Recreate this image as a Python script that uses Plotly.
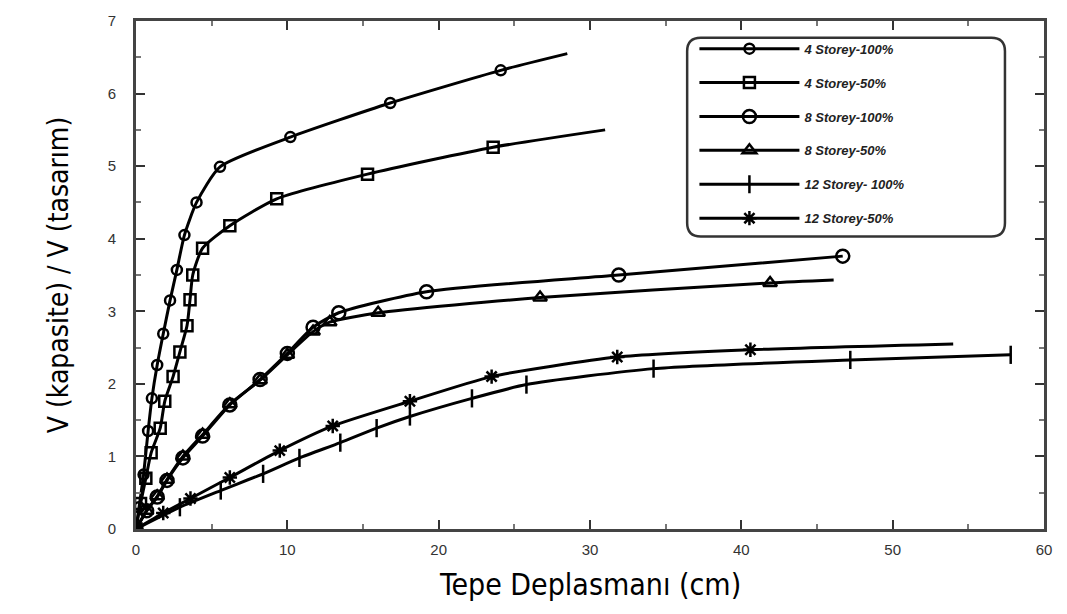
import plotly.graph_objects as go

# ---- data ----
names = ["4 Storey-100%", "4 Storey-50%", "8 Storey-100%", "8 Storey-50%",
         "12 Storey- 100%", "12 Storey-50%"]

x_4_100 = [0, 0.2, 0.5, 0.8, 1.05, 1.4, 1.8, 2.25, 2.7, 3.2, 4.0, 5.55, 10.2, 16.8, 24.1, 28.5]
y_4_100 = [0, 0.3, 0.75, 1.35, 1.8, 2.26, 2.69, 3.15, 3.57, 4.05, 4.5, 4.99, 5.4, 5.87, 6.32, 6.55]

x_4_50 = [0, 0.3, 0.65, 1.0, 1.6, 1.9, 2.45, 2.9, 3.37, 3.57, 3.75, 4.4, 6.2, 9.3, 15.3, 23.6, 31.0]
y_4_50 = [0, 0.35, 0.7, 1.05, 1.39, 1.76, 2.1, 2.44, 2.8, 3.16, 3.5, 3.87, 4.18, 4.55, 4.89, 5.26, 5.5]

x_8_100 = [0, 0.7, 1.4, 2.05, 3.1, 4.4, 6.2, 8.2, 10.0, 11.7, 13.4, 19.2, 31.9, 46.7]
y_8_100 = [0, 0.25, 0.44, 0.67, 0.98, 1.28, 1.71, 2.06, 2.42, 2.78, 2.98, 3.27, 3.50, 3.76]

x_8_50 = [0, 0.7, 1.4, 2.05, 3.1, 4.4, 6.2, 8.2, 10.0, 11.7, 12.8, 16.0, 26.7, 41.9, 46.1]
y_8_50 = [0, 0.25, 0.45, 0.68, 1.0, 1.3, 1.72, 2.05, 2.4, 2.72, 2.85, 2.98, 3.19, 3.39, 3.43]

x_12_100 = [0, 2.9, 5.6, 8.4, 10.8, 13.5, 15.9, 18.1, 22.2, 25.8, 34.2, 47.2, 57.8]
y_12_100 = [0, 0.30, 0.53, 0.76, 0.98, 1.19, 1.39, 1.55, 1.80, 1.99, 2.21, 2.33, 2.40]

x_12_50 = [0, 1.8, 3.6, 6.2, 9.5, 13.0, 18.1, 23.5, 31.8, 40.6, 54.0]
y_12_50 = [0, 0.22, 0.42, 0.71, 1.08, 1.42, 1.76, 2.10, 2.37, 2.47, 2.55]

x_ticks = [0, 10, 20, 30, 40, 50, 60]
y_ticks = [0, 1, 2, 3, 4, 5, 6, 7]

# (x, y, symbol, marker size, marker on last point?)
series = [
    (x_4_100, y_4_100, "circle-open", 10, False),
    (x_4_50, y_4_50, "square-open", 11, False),
    (x_8_100, y_8_100, "circle-open", 13, True),
    (x_8_50, y_8_50, "triangle-up-open", 12, False),
    (x_12_100, y_12_100, "line-ns-open", 13, True),
    (x_12_50, y_12_50, "asterisk-open", 12, False),
]

fig = go.Figure()
for i, (xs, ys, sym, sz, last) in enumerate(series):
    colors = ["black"] * len(xs)
    if not last:
        colors[-1] = "rgba(0,0,0,0)"
    fig.add_trace(go.Scatter(
        x=xs, y=ys, name=names[i], legendgroup=str(i),
        mode="lines+markers",
        line=dict(color="black", width=3, shape="spline", smoothing=0.6),
        marker=dict(symbol=sym, size=sz, color=colors,
                    line=dict(width=2.5)),
    ))

axis_common = dict(
    showline=True, linecolor="#444", linewidth=3, mirror="allticks",
    ticks="inside", ticklen=9, tickwidth=2, tickcolor="#333",
    showgrid=False, zeroline=False,
    tickfont=dict(family="Liberation Sans, Arial", size=15, color="#333"),
)

fig.update_xaxes(range=[0, 60], tickvals=x_ticks, ticklabelstandoff=5,
                 minor=dict(dtick=5, ticks="inside", ticklen=5, tickcolor="#777", tickwidth=2),
                 **axis_common)
fig.update_yaxes(range=[0, 7], tickvals=y_ticks, ticklabelstandoff=14,
                 minor=dict(dtick=0.5, ticks="inside", ticklen=5, tickcolor="#777", tickwidth=2),
                 **axis_common)

# legend frame (rounded rectangle) in paper coordinates
x0, x1, y0, y1, r = 0.607, 0.957, 0.576, 0.967, 0.015
ry = r * 908 / 514
fig.add_shape(type="path", xref="paper", yref="paper",
              path=(f"M {x0+r},{y1} L {x1-r},{y1} Q {x1},{y1} {x1},{y1-ry} "
                    f"L {x1},{y0+ry} Q {x1},{y0} {x1-r},{y0} L {x0+r},{y0} "
                    f"Q {x0},{y0} {x0},{y0+ry} L {x0},{y1-ry} Q {x0},{y1} {x0+r},{y1} Z"),
              line=dict(color="#333", width=2.5), fillcolor="white", layer="below")

fig.add_annotation(text="V (kapasite) / V (tasarım)", xref="paper", yref="paper",
                   x=-0.106, y=0.5, textangle=-90, showarrow=False,
                   font=dict(family="Liberation Sans Narrow, DejaVu Sans Condensed, Liberation Sans",
                             size=28, color="black"))
fig.add_annotation(text="Tepe Deplasmanı (cm)", xref="paper", yref="paper",
                   x=0.5, y=-0.109, yanchor="middle", showarrow=False,
                   font=dict(family="Liberation Sans Narrow, DejaVu Sans Condensed, Liberation Sans",
                             size=30, color="black"))

fig.update_layout(
    width=1067, height=614,
    margin=dict(l=136, r=23, t=15, b=85),
    paper_bgcolor="white", plot_bgcolor="rgba(0,0,0,0)",
    showlegend=True,
    legend=dict(x=0.615, y=0.975, xanchor="left", yanchor="top",
                bgcolor="rgba(0,0,0,0)", borderwidth=0,
                tracegroupgap=14, itemwidth=100,
                font=dict(family="Liberation Sans, Arial", size=13, style="italic",
                          weight="bold", color="#222")),
)

fig.write_html("out.html")
